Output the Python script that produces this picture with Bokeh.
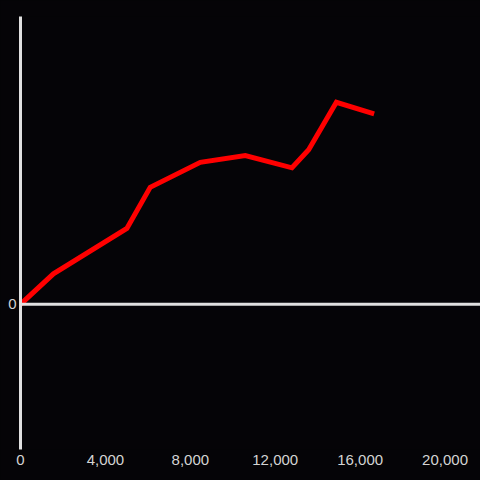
import re
from bokeh.plotting import figure
from bokeh.models import Span, FixedTicker, NumeralTickFormatter, Range1d
from bokeh.embed import file_html
from bokeh.resources import INLINE

# data
x_values = [0, 1550, 5010, 6110, 8470, 10590, 12790, 13575, 14880, 16660]
y_values = [0, 30.5, 75.8, 117, 142, 148.8, 136.5, 154.5, 202, 190.5]
x_ticks = [0, 4000, 8000, 12000, 16000, 20000]
y_ticks = [0]

BG = "#050407"
AXIS = "#e0e0e0"
LABEL = "#d4d4d4"

p = figure(width=480, height=480, output_backend="svg", toolbar_location=None,
           x_range=Range1d(0, 21670), y_range=Range1d(-145.2, 287.8),
           min_border_left=20, min_border_top=16, min_border_bottom=31, min_border_right=0)
p.background_fill_color = BG
p.border_fill_color = BG
p.outline_line_color = None
p.grid.visible = False

p.xaxis.ticker = FixedTicker(ticks=x_ticks)
p.xaxis.formatter = NumeralTickFormatter(format="0,0")
p.xaxis.axis_line_color = None
p.xaxis.major_tick_line_color = None
p.xaxis.minor_tick_line_color = None
p.xaxis.major_tick_out = 0
p.xaxis.major_label_standoff = 5

p.yaxis.ticker = FixedTicker(ticks=y_ticks)
p.yaxis.axis_line_color = AXIS
p.yaxis.axis_line_width = 3
p.yaxis.major_tick_line_color = None
p.yaxis.minor_tick_line_color = None
p.yaxis.major_tick_out = 0
p.yaxis.major_label_standoff = 4

for ax in (p.xaxis[0], p.yaxis[0]):
    ax.major_label_text_color = LABEL
    ax.major_label_text_font = "Liberation Sans"
    ax.major_label_text_font_size = "15px"

p.add_layout(Span(location=0, dimension="width", line_color=AXIS, line_width=3))

p.line(x_values, y_values, line_color="#ff0000", line_width=5, line_join="miter")

html = file_html(p, INLINE)
style = "<style>html, body { margin:0 !important; padding:0 !important; background-color:%s !important; overflow:hidden; }</style>" % BG
html = html.replace("</head>", style + "</head>", 1)
open("out.html", "w").write(html)
